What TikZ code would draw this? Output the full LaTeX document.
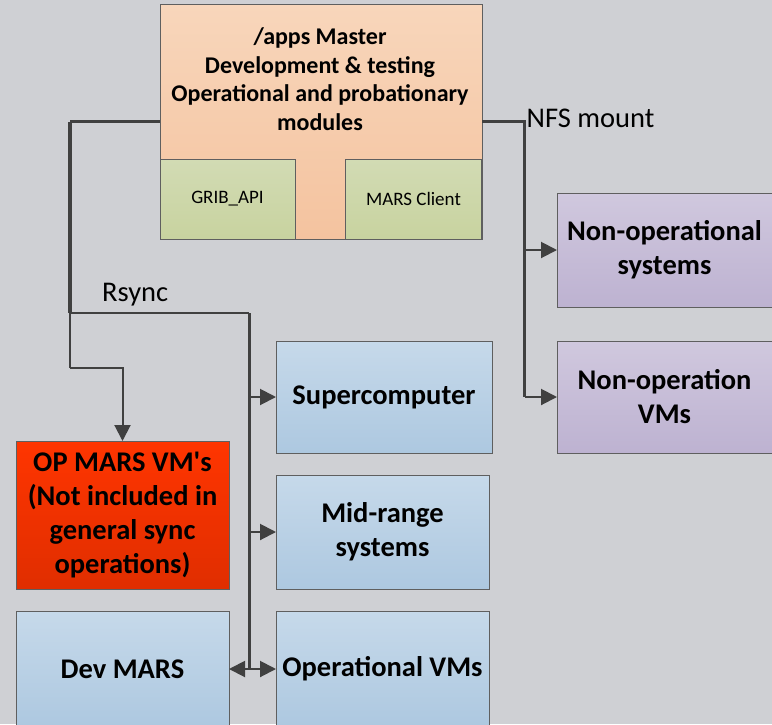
\documentclass[tikz,border=0pt]{standalone}
\usepackage{fontspec}
\setmainfont{Carlito}
\usetikzlibrary{arrows.meta}

\definecolor{bgcol}{HTML}{CFD0D4}
\definecolor{edgecol}{HTML}{5F5F5F}
\definecolor{linecol}{HTML}{404040}
\definecolor{orangeT}{HTML}{F8D6BB}
\definecolor{orangeB}{HTML}{F4C39F}
\definecolor{greenT}{HTML}{D2DBB4}
\definecolor{greenB}{HTML}{C8D39F}
\definecolor{purpleT}{HTML}{D0C8DE}
\definecolor{purpleB}{HTML}{BDB2D1}
\definecolor{blueT}{HTML}{C6D9EA}
\definecolor{blueB}{HTML}{ADC8E0}
\definecolor{redT}{HTML}{FF3500}
\definecolor{redB}{HTML}{E02E00}

\tikzset{
  box/.style={rectangle, draw=edgecol, line width=0.9pt, inner sep=0pt, outer sep=0pt,
    align=center, font=\fontsize{28.5}{34}\selectfont\bfseries},
  bluebox/.style={box, top color=blueT, bottom color=blueB},
  purplebox/.style={box, top color=purpleT, bottom color=purpleB},
  redbox/.style={box, top color=redT, bottom color=redB},
  greenbox/.style={box, top color=greenT, bottom color=greenB,
    font=\fontsize{19}{22}\selectfont},
  masterbox/.style={box, top color=orangeT, bottom color=orangeB},
  link/.style={draw=linecol, line width=2.3pt},
  buslink/.style={draw=linecol, line width=3pt},
  heavylink/.style={draw=linecol, line width=3.5pt},
  arrowlink/.style={draw=linecol, line width=2pt, -{Triangle[length=16pt,width=16pt]}},
  twowaylink/.style={draw=linecol, line width=2pt,
    {Triangle[length=16pt,width=16pt]}-{Triangle[length=16pt,width=16pt]}},
  tag/.style={font=\fontsize{28.5}{32}\selectfont, inner sep=0pt}
}

\begin{document}
\begin{tikzpicture}[x=1pt,y=-1pt]
  \path[fill=bgcol, use as bounding box] (0,0) rectangle (772,724);

  % master /apps box with its two sub-modules
  \node[masterbox, minimum width=322pt, minimum height=235pt] (master) at (321,121.5) {};
  \node[font=\fontsize{24}{28.5}\selectfont\bfseries, align=center, inner sep=0pt]
    (mastertxt) at (320,79) {/apps Master\\Development \& testing\\Operational and probationary\\modules};
  \node[greenbox, minimum width=135pt, minimum height=80pt] (grib) at (227.5,199) {GRIB\_API};
  \node[greenbox, minimum width=136pt, minimum height=80pt] (marsc) at (413.5,199) {MARS Client};

  % NFS-mounted systems
  \node[purplebox, minimum width=215pt, minimum height=114pt] (nonopsys) at (664.5,250) {Non-operational\\systems};
  \node[purplebox, minimum width=215pt, minimum height=112pt] (nonopvm) at (664.5,397) {Non-operation\\VMs};

  % rsync targets
  \node[bluebox, minimum width=216pt, minimum height=112pt] (super) at (384,397) {Supercomputer};
  \node[bluebox, minimum width=213pt, minimum height=114pt] (midrange) at (382.5,532) {Mid-range\\systems};
  \node[bluebox, minimum width=213pt, minimum height=116pt] (opvm) at (382.5,669) {Operational VMs};
  \node[redbox, minimum width=213pt, minimum height=148pt] (opmars) at (122.5,515) {OP MARS VM\textquotesingle s\\(Not included in\\general sync\\operations)};
  \node[bluebox, minimum width=213pt, minimum height=116pt] (devmars) at (122.5,669) {Dev MARS};

  % junction points of the connector network
  \coordinate (rsleft) at (70,313);
  \coordinate (rsbus) at (249,313);
  \coordinate (rsbend) at (70,368);
  \coordinate (nfsbus) at (524.5,121.5);

  % rsync distribution
  \draw[link] (master.west) -- (master.west -| rsleft);
  \draw[heavylink] (master.west -| rsleft) -- (rsleft);
  \draw[link] (rsleft) -- (rsbus);
  \draw[buslink] (rsbus) -- (rsbus |- opvm.west);
  \draw[link] (rsleft) -- (rsbend);
  \draw[arrowlink] (rsbend) -| (opmars.north);
  \draw[arrowlink] (rsbus |- super.west) -- (super.west);
  \draw[arrowlink] (rsbus |- midrange.west) -- (midrange.west);
  \draw[twowaylink] (devmars.east) -- (opvm.west);
  \node[tag, anchor=base west] (rsynclbl) at (102,301) {Rsync};

  % NFS mount distribution
  \draw[link] (master.east) -- (nfsbus) -- (nfsbus |- nonopvm.west);
  \draw[arrowlink] (nfsbus |- nonopsys.west) -- (nonopsys.west);
  \draw[arrowlink] (nfsbus |- nonopvm.west) -- (nonopvm.west);
  \node[tag, anchor=base west] (nfslbl) at (526.5,127) {NFS mount};
\end{tikzpicture}
\end{document}
